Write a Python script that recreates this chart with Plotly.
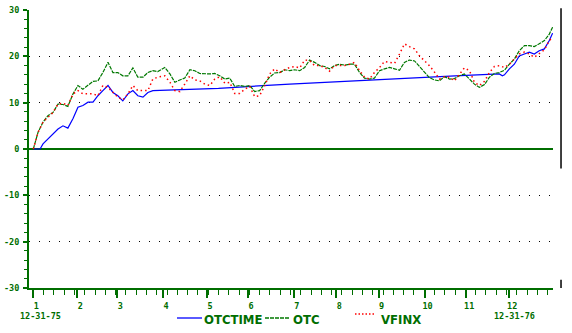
import plotly.graph_objects as go

# ---- data (x = trading day of 1976, y = cumulative % change) ----
days = [0, 2.3, 4.7, 7.1, 9.6, 12.0, 14.4, 16.8, 19.3, 21.7, 24.1, 26.6, 29.0, 31.4, 33.8,
        36.3, 38.7, 41.1, 43.5, 46.0, 48.4, 50.8, 53.3, 55.7, 58.1, 60.5, 63.9, 66.4, 68.8,
        71.2, 73.6, 76.1, 78.5, 80.9, 83.4, 85.8, 88.2, 90.6, 93.1, 95.5, 97.9, 100.3, 102.8,
        105.2, 107.6, 110.0, 112.5, 114.9, 117.3, 119.8, 122.2, 124.6, 127.0, 129.5, 131.9,
        134.3, 136.7, 139.2, 141.6, 144.0, 146.4, 148.9, 151.3, 153.7, 156.1, 158.6, 161.0,
        163.4, 165.8, 168.3, 170.7, 173.1, 175.6, 178.0, 180.4, 182.8, 185.3, 187.7, 190.1,
        192.5, 195.0, 197.4, 199.8, 202.3, 204.7, 207.1, 209.5, 212.0, 214.4, 216.8, 219.3,
        221.7, 224.1, 226.5, 229.0, 231.4, 233.8, 236.2, 238.7, 241.1, 243.5, 245.9, 248.4,
        250.8, 252.4]

otc = [0, 3.6, 5.8, 7.2, 7.9, 9.7, 9.6, 9.2, 11.9, 13.7, 12.9, 13.7, 14.6, 14.7, 16.5,
       18.7, 16.5, 16.5, 15.8, 15.8, 17.5, 15.5, 15.5, 16.5, 16.9, 16.7, 17.6, 16.2, 14.4,
       14.9, 15.3, 17.1, 16.9, 16.3, 16.2, 16.2, 16.3, 15.8, 15.1, 15.3, 13.5, 13.7, 13.5,
       13.7, 12.4, 12.6, 14.2, 15.5, 16.4, 16.5, 17.1, 16.9, 17.1, 16.9, 17.6,
       19.2, 18.7, 18.0, 17.8, 17.3, 18.0, 18.3, 18.1, 18.3, 18.3, 16.5, 15.3,
       15.1, 15.3, 16.9, 17.3, 17.6, 17.3, 17.0, 18.7, 19.2, 19.0, 17.9, 16.6,
       15.4, 14.9, 14.7, 15.6, 15.1, 15.2, 15.8, 16.2, 15.1, 14.0, 13.3, 13.9,
       15.5, 16.3, 16.5, 17.0, 18.3, 19.4, 21.2, 22.3, 22.3, 22.1, 22.7, 23.4,
       24.8, 26.3]

vfinx = [0, 3.6, 5.8, 6.8, 7.9, 9.7, 9.9, 9.4, 11.9, 12.6, 11.9, 11.9, 11.9, 11.5, 13.7,
         13.3, 12.2, 11.2, 10.6, 11.9, 13.7, 12.6, 12.6, 12.6, 15.1, 15.5, 15.8, 14.4, 12.6,
         12.4, 14.0, 15.8, 14.9, 14.7, 14.0, 13.7, 15.1, 15.6, 14.2, 14.4, 12.0, 12.0, 12.9,
         13.5, 11.3, 11.5, 13.7, 16.2, 17.3, 16.5, 17.1, 17.6, 17.8, 17.5, 19.2,
         19.1, 18.0, 18.0, 17.6, 16.8, 18.0, 18.0, 18.0, 18.3, 18.7, 16.9, 15.5,
         15.1, 16.5, 17.6, 18.9, 18.7, 18.5, 20.5, 22.7, 22.1, 21.6, 20.1, 19.0,
         18.0, 16.6, 15.1, 15.6, 15.5, 14.7, 16.2, 17.5, 16.9, 14.4, 13.7, 14.6,
         16.5, 17.8, 18.0, 17.6, 18.3, 19.4, 20.5, 20.9, 20.5, 19.8, 20.5, 21.4,
         23.4, 24.1]

blue_days = [0, 3.3, 4.7, 7.1, 9.6, 12.0, 14.4, 16.8, 19.3, 21.7, 24.1, 26.6, 29.0, 31.4,
             33.8, 36.3, 38.7, 41.1, 43.5, 46.0, 48.4, 50.8, 53.3, 55.7, 58.1, 90, 124.6,
             150, 180, 205, 226.5, 228.0, 229.0, 231.4, 233.8, 236.2, 238.7, 241.1, 243.5,
             245.9, 248.4, 250.8, 252.4]
otctime = [0, 0, 1.1, 2.2, 3.2, 4.3, 5.0, 4.5, 6.6, 9.0, 9.4, 10.1, 10.1, 11.5,
           12.6, 13.7, 12.2, 11.5, 10.4, 11.9, 12.6, 11.5, 11.2, 12.2, 12.6, 13.1, 14.0,
           14.6, 15.3, 15.8, 16.2, 15.8, 16.0, 17.3, 18.3, 20.1, 20.5, 20.9, 20.5,
           21.2, 21.6, 23.4, 25.0]

month_days = [0, 21.4, 40.8, 63.1, 84.5, 104.4, 126.6, 147.3, 167.8, 190.2, 210.4, 231.3]
month_labels = ["1", "2", "3", "4", "5", "6", "7", "8", "9", "10", "11", "12"]
y_ticks = [-30, -20, -10, 0, 10, 20, 30]
y_labels = ["-30", "-20", "-10", "0", "10", "20", "30"]
start_label = "12-31-75"
end_label = "12-31-76"

GREEN = "#006e00"
LINE_GREEN = "#007800"
LAB_FONT = dict(family="DejaVu Sans Mono", size=8.5, color=GREEN, weight="bold")
LEG_FONT = dict(family="DejaVu Sans Condensed, sans-serif",
                size=13, color=GREEN, weight="bold")

fig = go.Figure()
fig.add_trace(go.Scatter(x=blue_days, y=otctime, mode="lines", name="OTCTIME",
                         line=dict(color="#0000ff", width=1.2)))
fig.add_trace(go.Scatter(x=days, y=otc, mode="lines", name="OTC",
                         line=dict(color=LINE_GREEN, width=1.2, dash="4px,1px")))
fig.add_trace(go.Scatter(x=days, y=vfinx, mode="lines", name="VFINX",
                         line=dict(color="#ff0000", width=1.5, dash="1.5px,3px")))

fig.update_layout(
    width=572, height=333,
    margin=dict(l=29, r=19, t=10, b=45),
    paper_bgcolor="white", plot_bgcolor="white",
    showlegend=False,
    xaxis=dict(range=[-2.1, 252.6], showgrid=False, zeroline=False, automargin=False,
               showline=True, linecolor=GREEN, linewidth=2,
               tickmode="array", tickvals=month_days, ticktext=month_labels,
               ticks="outside", ticklen=8, tickwidth=1.5, tickcolor=GREEN,
               tickfont=LAB_FONT, ticklabelshift=3, ticklabelstandoff=1,
               minor=dict(tick0=0, dtick=5, ticks="outside", ticklen=5,
                          tickwidth=1, tickcolor=GREEN, showgrid=False)),
    yaxis=dict(range=[-30, 30], showgrid=True, gridcolor="black", gridwidth=1,
               griddash="1px,9px", automargin=False,
               zeroline=True, zerolinecolor=GREEN, zerolinewidth=2,
               showline=True, linecolor=GREEN, linewidth=2,
               tickmode="array", tickvals=y_ticks, ticktext=y_labels,
               ticks="outside", ticklen=4, tickwidth=1.5, tickcolor=GREEN,
               tickfont=LAB_FONT, ticklabelstandoff=2,
               minor=dict(dtick=2, ticks="outside", ticklen=3, tickwidth=1,
                          tickcolor=GREEN, showgrid=False)),
)

# right frame fragment
fig.add_shape(type="line", xref="paper", yref="paper", x0=1.0153, x1=1.0153,
              y0=0.43, y1=1.006, line=dict(color="black", width=1.5))
fig.add_shape(type="line", xref="paper", yref="paper", x0=1.0153, x1=1.0153,
              y0=0.0, y1=0.03, line=dict(color="black", width=1.5))

# custom legend / labels helpers (pixel position -> paper fraction)
def px_x(p):
    return (p - 29) / 524.0

def px_y(p):
    return (288 - p) / 278.0

fig.add_annotation(x=px_x(40), y=px_y(316), xref="paper", yref="paper", text=start_label,
                   showarrow=False, xanchor="center", yanchor="middle", font=LAB_FONT)
fig.add_annotation(x=px_x(514), y=px_y(316), xref="paper", yref="paper", text=end_label,
                   showarrow=False, xanchor="center", yanchor="middle", font=LAB_FONT)

legend_items = [
    ("OTCTIME", dict(color="#0000ff", width=1.3), 177, 202, 318, 202),
    ("OTC", dict(color=LINE_GREEN, width=1.3, dash="4px,1px"), 265, 290, 318, 291),
    ("VFINX", dict(color="#ff0000", width=1.3, dash="1.5px,2px"), 355, 375, 314, 379),
]
for name, ln, xa, xb, yl, xt in legend_items:
    fig.add_shape(type="line", xref="paper", yref="paper",
                  x0=px_x(xa), x1=px_x(xb), y0=px_y(yl), y1=px_y(yl), line=ln)
    fig.add_annotation(x=px_x(xt), y=px_y(319), xref="paper", yref="paper",
                       text=name, showarrow=False, xanchor="left", yanchor="middle",
                       font=LEG_FONT)

fig.write_html("out.html")
